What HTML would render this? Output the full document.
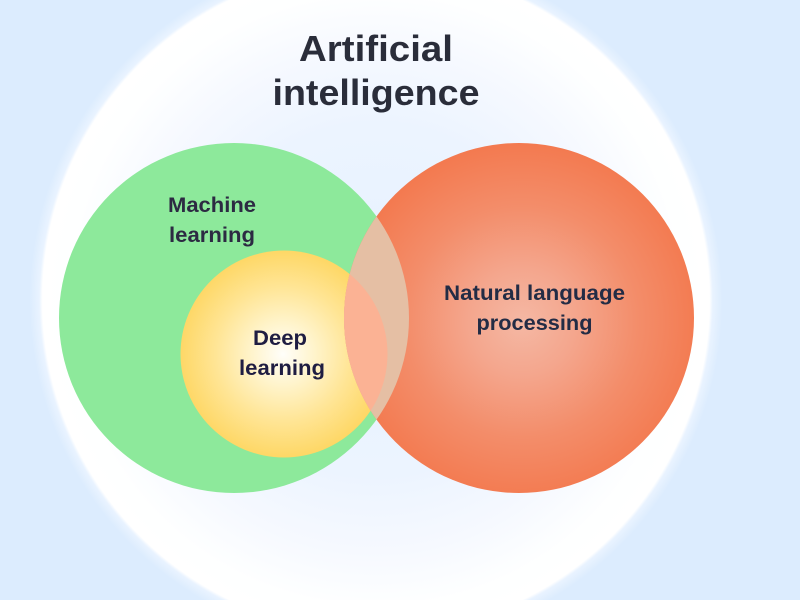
<!DOCTYPE html>
<html>
<head>
<meta charset="utf-8">
<style>
html,body{margin:0;padding:0;width:800px;height:600px;overflow:hidden;background:#dcecfe}
svg{display:block}
text{font-family:"Liberation Sans",sans-serif;font-weight:700;text-anchor:middle}
</style>
</head>
<body>
<svg width="800" height="600" viewBox="0 0 800 600" xmlns="http://www.w3.org/2000/svg">
<defs>
<radialGradient id="big" gradientUnits="userSpaceOnUse" cx="376" cy="300" r="350">
<stop offset="0" stop-color="#e6f1ff"/>
<stop offset="0.5" stop-color="#ecf4ff"/>
<stop offset="0.72" stop-color="#f6f9ff"/>
<stop offset="0.88" stop-color="#feffff"/>
<stop offset="0.945" stop-color="#ffffff"/>
<stop offset="0.953" stop-color="#ffffff"/>
<stop offset="0.962" stop-color="#e9f3ff"/>
<stop offset="0.99" stop-color="#dcecfe"/>
<stop offset="1" stop-color="#dcecfe"/>
</radialGradient>
<radialGradient id="red" gradientUnits="userSpaceOnUse" cx="522" cy="322" r="178">
<stop offset="0" stop-color="#f5b8a4"/>
<stop offset="0.3" stop-color="#f4a68d"/>
<stop offset="0.65" stop-color="#f38d6a"/>
<stop offset="1" stop-color="#f37a50"/>
</radialGradient>
<radialGradient id="yel" gradientUnits="userSpaceOnUse" cx="283" cy="354" r="104">
<stop offset="0" stop-color="#fffefa"/>
<stop offset="0.3" stop-color="#fff4cc"/>
<stop offset="0.65" stop-color="#ffe595"/>
<stop offset="1" stop-color="#fed765"/>
</radialGradient>
<clipPath id="cr"><circle cx="519" cy="318" r="175"/></clipPath>
<clipPath id="cy"><circle cx="284" cy="354" r="103.5"/></clipPath>
</defs>
<rect width="800" height="600" fill="url(#big)"/>
<circle cx="234" cy="318" r="175" fill="#8de99b"/>
<circle cx="284" cy="354" r="103.5" fill="url(#yel)"/>
<circle cx="519" cy="318" r="175" fill="url(#red)"/>
<g clip-path="url(#cr)">
<circle cx="234" cy="318" r="175" fill="#e5bfa4"/>
<g clip-path="url(#cy)"><rect x="340" y="240" width="60" height="220" fill="#fbb294"/></g>
</g>
<text x="376" y="61" font-size="36" textLength="154" lengthAdjust="spacingAndGlyphs" fill="#2a2d3a">Artificial</text>
<text x="376" y="105" font-size="36" textLength="207" lengthAdjust="spacingAndGlyphs" fill="#2a2d3a">intelligence</text>
<text x="212" y="212" font-size="21" textLength="88" lengthAdjust="spacingAndGlyphs" fill="#2c2a42">Machine</text>
<text x="212" y="242" font-size="21" textLength="86" lengthAdjust="spacingAndGlyphs" fill="#2c2a42">learning</text>
<text x="280" y="345" font-size="21" textLength="54" lengthAdjust="spacingAndGlyphs" fill="#1f1d42">Deep</text>
<text x="282" y="375" font-size="21" textLength="86" lengthAdjust="spacingAndGlyphs" fill="#1f1d42">learning</text>
<text x="534.5" y="300" font-size="21" textLength="181" lengthAdjust="spacingAndGlyphs" fill="#232c45">Natural language</text>
<text x="534.5" y="330" font-size="21" textLength="116" lengthAdjust="spacingAndGlyphs" fill="#232c45">processing</text>
</svg>
</body>
</html>
